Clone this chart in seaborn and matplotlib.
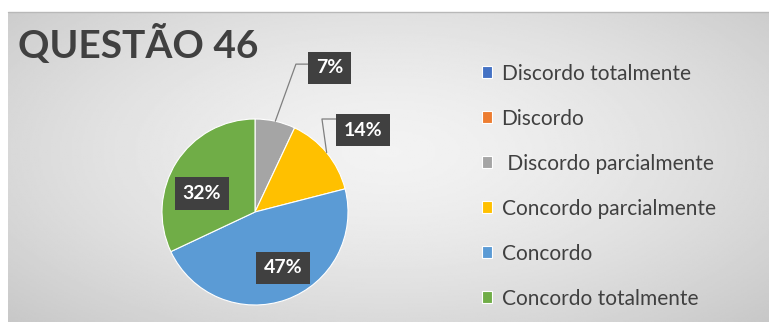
import numpy as np
import matplotlib
matplotlib.use("Agg")
import matplotlib.pyplot as plt
import seaborn as sns

# data
categories = ["Discordo totalmente", "Discordo", " Discordo parcialmente",
              "Concordo parcialmente", "Concordo", "Concordo totalmente"]
percent = [0, 0, 7, 14, 47, 32]
colors = ["#4472C4", "#ED7D31", "#A5A5A5", "#FFC000", "#5B9BD5", "#70AD47"]
title = "QUESTÃO 46"

sns.set_theme(style="white")
plt.rcParams["font.family"] = ["Lato", "DejaVu Sans"]

W, H = 769, 323
fig = plt.figure(figsize=(W / 100, H / 100), dpi=100)
fig.patch.set_facecolor("white")

# chart area background with soft gray gradient
bg = fig.add_axes([8 / W, 1 / H, 761 / W, 310 / H])
yy, xx = np.mgrid[0:1:200j, 0:1:400j]
dist = np.sqrt(((xx - 0.5) / 0.7) ** 2 + ((yy - 0.45) / 0.8) ** 2)
shade = 0.95 - 0.17 * np.clip(dist, 0, 1) ** 1.5
bg.imshow(shade, cmap="gray", vmin=0, vmax=1, aspect="auto", extent=[0, 1, 0, 1])
bg.set_axis_off()
fig.add_artist(plt.Line2D([8 / W, 1], [1 - 12 / H, 1 - 12 / H],
                          color="#b8b8b8", lw=1))

# pie
cx, cy, r = 255, 212, 93
ax = fig.add_axes([(cx - r) / W, (H - cy - r) / H, 2 * r / W, 2 * r / H])
wedges, _ = ax.pie(percent, colors=colors, startangle=90, counterclock=False,
                   wedgeprops=dict(linewidth=0.8, edgecolor="white"))
ax.set_xlim(-1, 1)
ax.set_ylim(-1, 1)

box = dict(boxstyle="square,pad=0.4", facecolor="#404040", edgecolor="none")
label_kw = dict(color="white", fontsize=14, fontweight="bold",
                ha="center", va="center", bbox=box)

# label placement: outside labels with leader lines, inside labels in the slice
outside = {2: ((0.80, 1.55), (0.44, 1.59)), 3: ((1.16, 0.88), (0.72, 1.0))}
inside = {4: (0.30, -0.60), 5: (-0.57, 0.20)}
for i, (w, p) in enumerate(zip(wedges, percent)):
    if p == 0:
        continue
    mid = np.deg2rad((w.theta1 + w.theta2) / 2)
    if i in outside:
        (tx, ty), (kx, ky) = outside[i]
        ax.plot([np.cos(mid), kx, tx - 0.2], [np.sin(mid), ky, ky],
                color="#7f7f7f", lw=0.9, clip_on=False)
        ax.text(tx, ty, f"{p}%", clip_on=False, **label_kw)
    else:
        ax.text(*inside[i], f"{p}%", **label_kw)

fig.text(18 / W, 1 - 44 / H, title, fontsize=28, fontweight="bold",
         color="#404040", va="center", ha="left")

fig.legend(wedges, categories, loc="upper left",
           bbox_to_anchor=(463 / W, 1 - 45 / H), frameon=False,
           fontsize=15, labelcolor="#404040", labelspacing=1.2,
           handlelength=0.5, handleheight=0.5, handletextpad=0.45)

fig.savefig("out.png", dpi=100)
